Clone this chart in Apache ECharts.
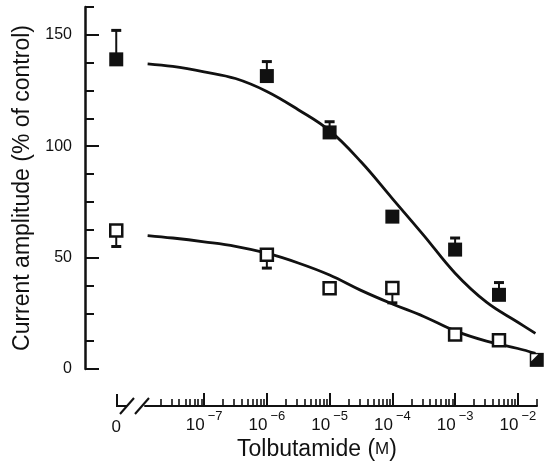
<!DOCTYPE html>
<html>
<head>
<meta charset="utf-8">
<script src="https://cdn.jsdelivr.net/npm/echarts@6/dist/echarts.min.js"></script>
<style>
  html, body { margin: 0; padding: 0; background: #fff; }
  #chart { width: 548px; height: 466px; }
</style>
</head>
<body>
<div id="chart"></div>
<script>
// tolbutamide concentration (M), 0 = control (drawn left of the axis break)
const conc = [0, 1e-6, 1e-5, 1e-4, 1e-3, 5e-3, 2e-2];
// filled squares: mean and top of error bar (% of control)
const filledMean = [139, 131.5, 106.2, 68.4, 53.6, 33.3, 4.1];
const filledErr  = [152, 138, 111, null, 58.8, 38.8, null];
// open squares: mean and bottom of error bar
const openMean = [62.2, 51.3, 36.3, 36.4, 15.5, 12.9, 4.1];
const openErr  = [55, 45.3, null, 29.7, null, null, null];
// fitted curves (x = log10 of concentration)
const fitLog    = [-7.9, -7.5, -7, -6.5, -6, -5.5, -5, -4.5, -4, -3.5, -3, -2.5, -2, -1.72];
const fitFilled = [137, 135.8, 133.4, 130.4, 124.6, 116.4, 107, 93, 76.5, 60, 43, 30, 21, 16];
const fitOpen   = [59.9, 58.8, 57.1, 55.1, 52, 47.6, 42.2, 35.3, 29.2, 23.6, 17.1, 12.5, 9.2, 7];
// decade tick labels (10^n)
const decades = [-7, -6, -5, -4, -3, -2];
const yLabels = [0, 50, 100, 150];

const ZERO_POS = -8.4;     // where the control sits on the broken axis
const X_MIN = -8.898, X_BREAK = -7.943, X_MAX = -1.695;
const FONT = 'Liberation Sans, Arial, Helvetica, sans-serif';
const INK = '#111';

const xpos = c => (c === 0 ? ZERO_POS : Math.log10(c));

// minor ticks 2..9 x 10^n on the log part
const minorTicks = [];
for (let e = -8; e <= -2; e++) {
  for (let m = 2; m <= 9; m++) {
    const v = e + Math.log10(m);
    if (v > X_BREAK && v <= X_MAX) minorTicks.push(v);
  }
}

const filledPts = conc.map((c, i) => [xpos(c), filledMean[i]]);
const openPts = conc.map((c, i) => {
  const p = [xpos(c), openMean[i]];
  // last point overlaps the filled one: shown as a half-white square
  if (i === conc.length - 1) {
    return { value: p, symbol: 'path://M0,0L10,0L0,10Z', symbolSize: [7, 7], symbolOffset: [-2, -2],
      itemStyle: { color: '#fff', borderWidth: 0 } };
  }
  return p;
});
const filledBars = conc.map((c, i) => [xpos(c), filledMean[i], filledErr[i]]).filter(d => d[2] != null);
const openBars = conc.map((c, i) => [xpos(c), openMean[i], openErr[i]]).filter(d => d[2] != null);

function errBar(params, api) {
  const a = api.coord([api.value(0), api.value(1)]);
  const b = api.coord([api.value(0), api.value(2)]);
  return {
    type: 'group',
    children: [
      { type: 'line', shape: { x1: a[0], y1: a[1], x2: b[0], y2: b[1] }, style: { stroke: INK, lineWidth: 2 } },
      { type: 'line', shape: { x1: b[0] - 5, y1: b[1], x2: b[0] + 5, y2: b[1] }, style: { stroke: INK, lineWidth: 3 } }
    ]
  };
}

const xBase = {
  type: 'value', position: 'bottom', offset: 37,
  axisLine: { show: false, onZero: false }, splitLine: { show: false }
};

const option = {
  animation: false,
  backgroundColor: '#fff',
  title: {
    text: 'Tolbutamide ({sc|M})',
    left: 237,
    top: 438,
    padding: 0,
    textStyle: {
      fontFamily: FONT, fontSize: 23, fontWeight: 'normal', color: INK,
      rich: { sc: { fontFamily: FONT, fontSize: 17, color: INK } }
    }
  },
  grid: [
    { left: 85, right: 11, top: 7, bottom: 97 },
    { left: 145, right: 11, top: 7, bottom: 97 }
  ],
  xAxis: [
    Object.assign({}, xBase, { // control position only
      gridIndex: 0, min: X_MIN, max: X_MAX,
      axisTick: { inside: true, length: 12, customValues: [ZERO_POS], lineStyle: { color: INK, width: 2 } },
      axisLabel: { customValues: [ZERO_POS], formatter: () => '0', margin: 13,
        fontFamily: FONT, fontSize: 17, color: INK }
    }),
    Object.assign({}, xBase, { // log part, decades
      gridIndex: 1, min: X_BREAK, max: X_MAX,
      axisLine: { show: true, onZero: false, lineStyle: { color: INK, width: 2 } },
      axisTick: { inside: true, length: 13, customValues: decades, lineStyle: { color: INK, width: 2 } },
      axisLabel: {
        customValues: decades, margin: 4,
        formatter: v => '{b|10}{s|\u2212' + Math.round(-v) + '}',
        rich: {
          b: { fontFamily: FONT, fontSize: 17, color: INK, lineHeight: 24, verticalAlign: 'bottom' },
          s: { fontFamily: FONT, fontSize: 13, color: INK, lineHeight: 14, verticalAlign: 'top', padding: [0, 0, 0, 3] }
        }
      }
    }),
    Object.assign({}, xBase, { // log part, minor ticks
      gridIndex: 1, min: X_BREAK, max: X_MAX, axisLabel: { show: false },
      axisTick: { inside: true, length: 7, customValues: minorTicks, lineStyle: { color: INK, width: 1.6 } }
    })
  ],
  yAxis: [
    {
      type: 'value', gridIndex: 0, position: 'left', min: 0, max: 162.5, interval: 12.5,
      name: 'Current amplitude (% of control)', nameLocation: 'middle', nameGap: 45,
      nameTextStyle: { fontFamily: FONT, fontSize: 23, color: INK },
      axisLine: { lineStyle: { color: INK, width: 2.5 } }, splitLine: { show: false },
      axisTick: { inside: true, length: 9, lineStyle: { color: INK, width: 2 } },
      axisLabel: { customValues: yLabels, margin: 13, fontFamily: FONT, fontSize: 16, color: INK }
    },
    {
      type: 'value', gridIndex: 0, position: 'left', min: 0, max: 162.5,
      axisLine: { show: false }, splitLine: { show: false }, axisLabel: { show: false },
      axisTick: { inside: true, length: 14, customValues: yLabels, lineStyle: { color: INK, width: 2 } }
    },
    { type: 'value', gridIndex: 1, position: 'left', min: 0, max: 162.5, show: false }
  ],
  graphic: [
    { type: 'line', shape: { x1: 116, y1: 406, x2: 127, y2: 406 }, style: { stroke: INK, lineWidth: 2 } },
    { type: 'line', shape: { x1: 120, y1: 414, x2: 134, y2: 398 }, style: { stroke: INK, lineWidth: 2 } },
    { type: 'line', shape: { x1: 135, y1: 414, x2: 149, y2: 398 }, style: { stroke: INK, lineWidth: 2 } }
  ],
  series: [
    { type: 'line', xAxisIndex: 0, yAxisIndex: 0, smooth: 0.4, showSymbol: false, z: 2,
      data: fitLog.map((x, i) => [x, fitFilled[i]]), lineStyle: { color: INK, width: 2.8 } },
    { type: 'line', xAxisIndex: 0, yAxisIndex: 0, smooth: 0.4, showSymbol: false, z: 2,
      data: fitLog.map((x, i) => [x, fitOpen[i]]), lineStyle: { color: INK, width: 2.8 } },
    { type: 'custom', xAxisIndex: 0, yAxisIndex: 0, z: 1, renderItem: errBar,
      encode: { x: 0, y: [1, 2] }, data: filledBars },
    { type: 'custom', xAxisIndex: 0, yAxisIndex: 0, z: 1, renderItem: errBar,
      encode: { x: 0, y: [1, 2] }, data: openBars },
    { type: 'scatter', xAxisIndex: 0, yAxisIndex: 0, z: 3, symbol: 'rect', symbolSize: 14,
      itemStyle: { color: INK, opacity: 1 }, data: filledPts },
    { type: 'scatter', xAxisIndex: 0, yAxisIndex: 0, z: 4, symbol: 'rect', symbolSize: 12,
      itemStyle: { color: '#fff', borderColor: INK, borderWidth: 2.5, opacity: 1 }, data: openPts }
  ]
};

const chart = echarts.init(document.getElementById('chart'));
chart.setOption(option);
</script>
</body>
</html>
